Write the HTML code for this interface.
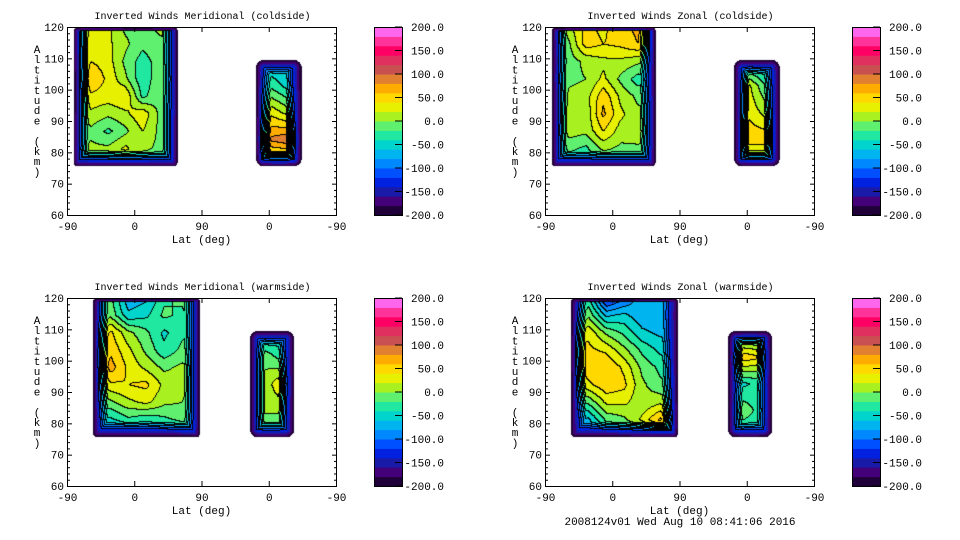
<!DOCTYPE html>
<html><head><meta charset="utf-8">
<style>
body{margin:0;background:#fff;width:960px;height:540px;overflow:hidden;position:relative;font-family:"Liberation Mono",monospace;}
canvas{position:absolute;}
svg{position:absolute;left:0;top:0;}
</style></head>
<body>
<svg id="svg" width="960" height="540"></svg>
<script>
// color bands from -200 to 200 (20 levels)
const levelColors=["#200038","#440078","#1a1aa8","#0022e0","#0050ff","#0088ff","#00b4f0","#00d4cc","#20e8a0","#60f070","#a8f020","#e6f000","#ffd800","#ffac00","#e08030","#c85050","#e03060","#ff0064","#ff3399","#ff66ee"];
const cbTicks=[200,150,100,50,0,-50,-100,-150,-200];
const yTicks=[60,70,80,90,100,110,120];
const xTickPos=[0,90,180,270,360];
const xTickLabels=["-90","0","90","0","-90"];
const titles=["Inverted Winds Meridional (coldside)","Inverted Winds Zonal (coldside)","Inverted Winds Meridional (warmside)","Inverted Winds Zonal (warmside)"];
// grid values (rows top->bottom)
const p1Left=[[-15,25,25,-5,-5,5,5],[-25,35,25,5,-15,-5,5],[-35,40,30,-5,-30,-10,15],[-45,60,35,5,-35,-5,25],[-55,35,30,40,-25,-5,5],[-35,15,5,15,35,-5,-5],[-25,-5,-25,-5,20,-5,-15],[-15,5,5,25,5,-5,-15],[-25,-25,-25,-25,-25,-25,-25]];
const p1Right=[[-65,-65,-65,-65],[-25,-25,-45,-65],[-5,35,15,-45],[45,85,95,-25],[-25,-5,-5,-45]];
const p2Left=[[-45,15,45,35,55,65,15],[-55,-5,50,40,45,60,25],[-65,-10,5,15,15,5,-5],[-45,-5,0,25,-5,-30,-15],[-85,5,10,55,15,-5,-5],[-75,10,5,65,25,5,0],[-65,10,5,40,10,15,5],[-55,-15,-25,5,-5,-5,-5],[-45,-35,-35,-35,-35,-35,-35]];
const p2Right=[[-65,-65,-65,-65],[-85,25,-15,-45],[-85,35,15,-45],[-65,55,55,-45],[-45,-25,-25,-45]];
const p3Left=[[-45,-15,-75,-65,-25,-15,-5],[-35,-5,-55,-45,-15,-25,-5],[-5,45,5,-15,-45,-25,-10],[15,55,25,-5,-35,-15,-5],[5,70,35,15,-5,5,-5],[-5,35,40,45,15,5,-10],[-15,-5,15,25,5,0,-10],[-35,-45,-25,-35,-25,-15,-15],[-75,-85,-95,-85,-75,-55,-45]];
const p3Right=[[-65,-65,-65,-65],[-45,-5,-25,-65],[-45,5,35,-45],[-45,5,5,-65],[-45,-35,-35,-55]];
const p4Left=[[-85,-35,-135,-105,-65,-65,-65],[-45,-5,-65,-55,-75,-75,-65],[15,35,-5,-25,-55,-65,-65],[55,45,35,5,-25,-45,-55],[25,55,60,35,-5,-25,-35],[5,35,55,45,5,-15,-25],[-25,-15,25,25,5,15,-5],[-55,-65,-15,-5,25,65,25],[-75,-75,-65,-55,-45,-35,-25]];
const p4Right=[[-65,-45,-45,-65],[-45,55,45,-45],[-45,-45,-35,-45],[-45,-5,-25,-45],[-55,-45,-45,-55]];

const PW=269,PH=188;
const panels=[
 {ox:67,oy:27,left:{u0:9,u1:148,a0:75.5,a1:120,vals:p1Left,top:false,r:4},right:{u0:253,u1:314,a0:75.5,a1:109.5,vals:p1Right,top:true,r:8}},
 {ox:545,oy:27,left:{u0:9,u1:148,a0:75.5,a1:120,vals:p2Left,top:false,r:4},right:{u0:253,u1:314,a0:75.5,a1:109.5,vals:p2Right,top:true,r:8}},
 {ox:67,oy:298,left:{u0:35,u1:178,a0:75.5,a1:120,vals:p3Left,top:false,r:4},right:{u0:245,u1:304,a0:75.5,a1:109.5,vals:p3Right,top:true,r:8}},
 {ox:545,oy:298,left:{u0:35,u1:178,a0:75.5,a1:120,vals:p4Left,top:false,r:4},right:{u0:245,u1:304,a0:75.5,a1:109.5,vals:p4Right,top:true,r:8}}
];
const xs=u=>u/360*PW, ys=a=>(120-a)/60*PH;
const NS="http://www.w3.org/2000/svg";
const svg=document.getElementById('svg');
function mk(tag,attrs,parent){const e=document.createElementNS(NS,tag);for(const k in attrs)e.setAttribute(k,attrs[k]);(parent||svg).appendChild(e);return e;}
function txt(x,y,s,anchor,size,parent){const t=mk('text',{x:x,y:y,'text-anchor':anchor||'start','font-size':size||11,'font-family':'Liberation Mono, monospace',fill:'#000'},parent);t.textContent=s;return t;}

function sample(reg,px,py){
  const x0=xs(reg.u0),x1=xs(reg.u1),y0=ys(reg.a1),y1=ys(reg.a0);
  if(px<x0||px>x1||py<y0||py>y1)return null;
  const R=reg.r;
  let cx=Math.min(Math.max(px,x0+R),x1-R), cy=Math.min(Math.max(py,y0+R),y1-R);
  let dc=Math.hypot(px-cx,py-cy); if(dc>R)return null;
  let d=Math.min(px-x0,x1-px,y1-py); if(reg.top)d=Math.min(d,py-y0);
  if(dc>0)d=Math.min(d,R-dc);
  const g=reg.vals,nr=g.length,nc=g[0].length;
  const fx=(px-x0)/(x1-x0)*(nc-1), fy=(py-y0)/(y1-y0)*(nr-1);
  const i=Math.min(Math.floor(fx),nc-2), j=Math.min(Math.floor(fy),nr-2);
  const tx=fx-i, ty=fy-j;
  let v=(g[j][i]*(1-tx)+g[j][i+1]*tx)*(1-ty)+(g[j+1][i]*(1-tx)+g[j+1][i+1]*tx)*ty;
  const RAMP=15; if(d<RAMP)v=-200+(v+200)*(d/RAMP);
  return Math.max(0,Math.min(19,Math.floor((v+200)/20)));
}

panels.forEach((p,k)=>{
  const cv=document.createElement('canvas');cv.width=PW;cv.height=PH;cv.style.left=p.ox+'px';cv.style.top=p.oy+'px';
  
  
  document.body.insertBefore(cv,svg);
  const ctx=cv.getContext('2d');const img=ctx.createImageData(PW,PH);
  const L=new Int8Array(PW*PH).fill(-1);
  for(let y=0;y<PH;y++)for(let x=0;x<PW;x++){
    let l=sample(p.left,x+0.5,y+0.5); if(l===null)l=sample(p.right,x+0.5,y+0.5);
    if(l!==null)L[y*PW+x]=l;
  }
  for(let y=0;y<PH;y++)for(let x=0;x<PW;x++){
    const l=L[y*PW+x],o=(y*PW+x)*4;
    if(l<0){img.data[o]=255;img.data[o+1]=255;img.data[o+2]=255;img.data[o+3]=255;continue;}
    let line=false;
    const nr=x<PW-1?L[y*PW+x+1]:-1, nd=y<PH-1?L[(y+1)*PW+x]:-1;
    if(nr>=0&&nr!==l&&Math.max(nr,l)>3)line=true;
    if(nd>=0&&nd!==l&&Math.max(nd,l)>3)line=true;
    const c=levelColors[l];
    const r=line?0:parseInt(c.substr(1,2),16),g=line?0:parseInt(c.substr(3,2),16),b=line?0:parseInt(c.substr(5,2),16);
    img.data[o]=r;img.data[o+1]=g;img.data[o+2]=b;img.data[o+3]=255;
  }
  ctx.putImageData(img,0,0);

  const G=mk('g',{});
  
  
  const ox=p.ox,oy=p.oy;
  const frame=mk('rect',{x:ox+0.5,y:oy+0.5,width:PW,height:PH,fill:'none',stroke:'#000','stroke-width':1},G);
  
  
  for(let a=60;a<=120;a+=2){
    const y=oy+0.5+ys(a), len=(a%10===0)?5:3;
    mk('line',{x1:ox,y1:y,x2:ox+len,y2:y,stroke:'#000'},G);
    mk('line',{x1:ox+PW+1,y1:y,x2:ox+PW+1-len,y2:y,stroke:'#000'},G);
  }
  yTicks.forEach(a=>{const t=txt(ox-3,oy+ys(a)+4,String(a),'end',11,G);
    
    });
  xTickPos.forEach((u,i)=>{const x=ox+0.5+xs(u);
    mk('line',{x1:x,y1:oy+PH,x2:x,y2:oy+PH-5,stroke:'#000'},G);
    mk('line',{x1:x,y1:oy,x2:x,y2:oy+5,stroke:'#000'},G);
    const t=txt(x,oy+PH+15,xTickLabels[i],'middle',11,G);
    
    });
  const xt=txt(ox+PW/2,oy+PH+28,'Lat (deg)','middle',11,G);
  
  
  const tt=txt(ox+PW/2+1,oy-8,titles[k],'middle',10,G);
  
  
  const yt=mk('g',{},G);
  
  
  "Altitude (km)".split('').forEach((ch,i)=>{ if(ch!==' ')txt(ox-30,oy+26+i*10.2,ch,'middle',11,yt);});
  const cb=mk('g',{},G);
  
  
  const cx=ox+307,cw=28,ch=PH;
  levelColors.forEach((c,i)=>{const h=ch/20;
    mk('rect',{x:cx,y:oy+ch-(i+1)*h,width:cw,height:h+0.5,fill:c},cb);});
  mk('rect',{x:cx+0.5,y:oy+0.5,width:cw,height:ch,fill:'none',stroke:'#000'},cb);
  cbTicks.forEach(v=>{const y=oy+(200-v)/400*ch;
    mk('line',{x1:cx+cw-7,y1:y,x2:cx+cw,y2:y,stroke:'#000'},cb);
    const t=txt(cx+70,y+4,v.toFixed(1),'end',11,cb);
    
    });
});
const f=txt(680,525,'2008124v01 Wed Aug 10 08:41:06 2016','middle',11);


</script>
</body></html>
